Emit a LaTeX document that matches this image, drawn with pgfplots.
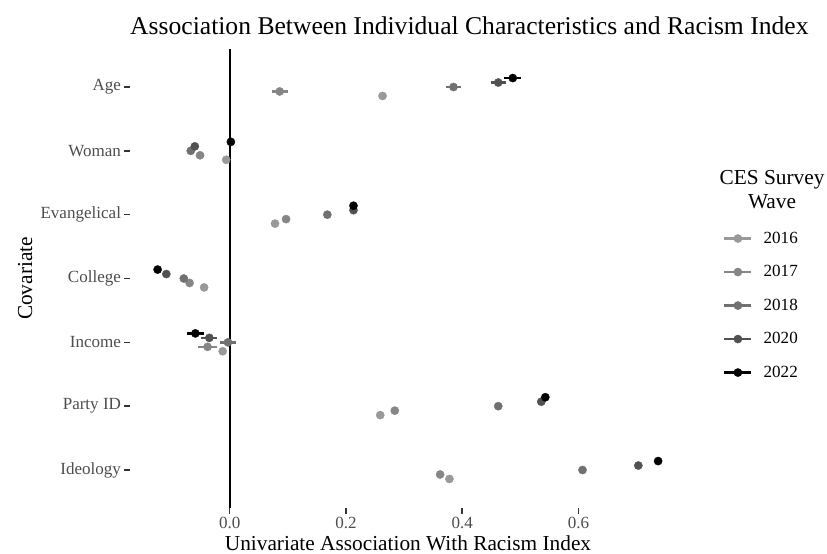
\documentclass[border=0pt]{standalone}
\usepackage{fontspec}
\setmainfont{Liberation Serif}
\usepackage{pgfplots}
\usepackage{pgfplotstable}
\pgfplotsset{compat=1.18}
\definecolor{c16}{HTML}{999999}
\definecolor{c17}{HTML}{868686}
\definecolor{c18}{HTML}{707070}
\definecolor{c20}{HTML}{515151}
\definecolor{c22}{HTML}{000000}
\definecolor{gray30}{HTML}{4D4D4D}
\definecolor{gray20}{HTML}{333333}
% y: 7=Age 6=Woman 5=Evangelical 4=College 3=Income 2=Party ID 1=Ideology
\pgfplotstableread{
y x e
7 0.263 0.004
6 -0.006 0.004
5 0.078 0.004
4 -0.044 0.004
3 -0.012 0.006
2 0.259 0.004
1 0.378 0.004
}\wsixteen
\pgfplotstableread{
y x e
7 0.086 0.014
6 -0.051 0.004
5 0.097 0.004
4 -0.069 0.004
3 -0.038 0.016
2 0.284 0.004
1 0.362 0.004
}\wseventeen
\pgfplotstableread{
y x e
7 0.385 0.013
6 -0.067 0.004
5 0.168 0.004
4 -0.079 0.004
3 -0.003 0.014
2 0.462 0.004
1 0.607 0.004
}\weighteen
\pgfplotstableread{
y x e
7 0.462 0.013
6 -0.060 0.004
5 0.213 0.004
4 -0.109 0.004
3 -0.035 0.014
2 0.536 0.004
1 0.703 0.004
}\wtwenty
\pgfplotstableread{
y x e
7 0.487 0.015
6 0.002 0.004
5 0.213 0.004
4 -0.124 0.004
3 -0.059 0.014
2 0.543 0.004
1 0.737 0.006
}\wtwentytwo
\pgfplotsset{
  pt/.style={forget plot, only marks, mark=*, mark size=4.1bp, color=#1,
    mark options={line width=0.4pt},
    error bars/.cd, x dir=both, x explicit, error mark=none,
    error bar style={line width=2.6bp, color=#1}},
  lg/.style={color=#1, line width=2.6bp, mark=*, mark size=4.1bp, mark options={line width=0.4pt}},
  xtk/.style={forget plot, gray20, line width=1.5bp},
}
\begin{document}
\begin{tikzpicture}
\useasboundingbox (-130bp,-45.7bp) rectangle (697bp,508.3bp);
\begin{axis}[
  scale only axis, width=556bp, height=459.6bp,
  xmin=-0.1715, xmax=0.785, ymin=0.4, ymax=7.6,
  axis line style={draw=none},
  xtick pos=left, ytick pos=left,
  tick align=outside, major tick length=5.5bp,
  xtick style={line width=1.5bp, draw=gray20},
  ytick style={line width=1.5bp, draw=gray20},
  xtick={0,0.2,0.4,0.6}, xticklabels={0.0,0.2,0.4,0.6},
  ytick={1,2,3,4,5,6,7},
  yticklabels={Ideology,Party ID,Income,College,Evangelical,Woman,Age},
  ticklabel style={font=\fontsize{17.1}{20}\selectfont, text=gray30},
  minor tick num=0,
  clip=false,
  title={Association Between Individual Characteristics and Racism Index},
  title style={at={(axis description cs:0,1.0183)}, anchor=base west, font=\fontsize{25.7}{30}\selectfont, inner sep=0pt},
  xlabel={Univariate Association With Racism Index},
  xlabel style={at={(axis description cs:0.5,-0.0929)}, anchor=base, font=\fontsize{21.4}{25}\selectfont, inner sep=0pt},
  ylabel={Covariate},
  ylabel style={at={(axis description cs:-0.176,0.5)}, anchor=base, font=\fontsize{21.4}{25}\selectfont, inner sep=0pt},
  legend image code/.code={\draw[mark repeat=2,mark phase=2,#1] plot coordinates {(0bp,0bp) (13.5bp,0bp) (27bp,0bp)};},
  legend style={at={(axis description cs:1.061,0.61)}, anchor=north west, draw=none, fill=none,
    font=\fontsize{17.1}{20}\selectfont, row sep=16.7bp,
    /tikz/every odd column/.append style={column sep=9bp}},
  legend cell align=left,
]
\addplot[xtk] coordinates {(0,0.4) (0,0.314)};
\addplot[xtk] coordinates {(0.2,0.4) (0.2,0.314)};
\addplot[xtk] coordinates {(0.4,0.4) (0.4,0.314)};
\addplot[xtk] coordinates {(0.6,0.4) (0.6,0.314)};
\addplot[forget plot, black, line width=1.9bp] coordinates {(0,0.4) (0,7.6)};
\addplot[pt=c16] table[x=x, y expr=\thisrow{y}-0.14, x error=e]{\wsixteen};
\addplot[pt=c17] table[x=x, y expr=\thisrow{y}-0.07, x error=e]{\wseventeen};
\addplot[pt=c18] table[x=x, y expr=\thisrow{y}, x error=e]{\weighteen};
\addplot[pt=c20] table[x=x, y expr=\thisrow{y}+0.07, x error=e]{\wtwenty};
\addplot[pt=c22] table[x=x, y expr=\thisrow{y}+0.14, x error=e]{\wtwentytwo};
\addlegendimage{lg=c16}\addlegendentry{2016}
\addlegendimage{lg=c17}\addlegendentry{2017}
\addlegendimage{lg=c18}\addlegendentry{2018}
\addlegendimage{lg=c20}\addlegendentry{2020}
\addlegendimage{lg=c22}\addlegendentry{2022}
\node[align=center, font=\fontsize{21.4}{24}\selectfont] at (axis description cs:1.1547,0.6926) {CES Survey\\Wave};
\end{axis}
\end{tikzpicture}
\end{document}
